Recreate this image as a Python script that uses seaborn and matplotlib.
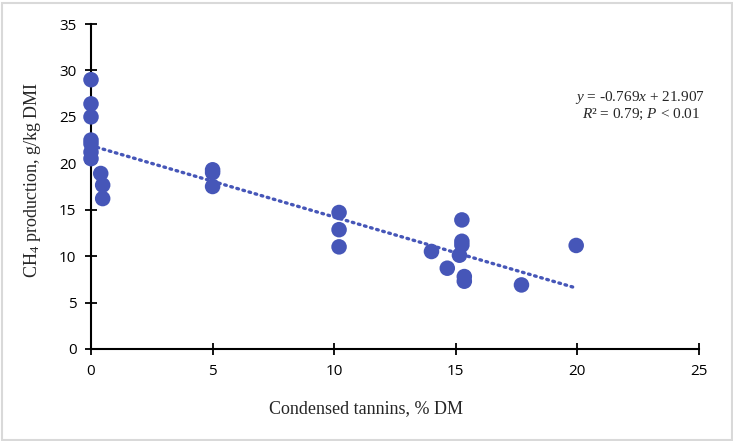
import numpy as np
import pandas as pd
import seaborn as sns
import matplotlib.pyplot as plt
from matplotlib.patches import Rectangle

# condensed tannins (% DM) vs CH4 production (g/kg DMI)
tannins = [0, 0, 0, 0, 0, 0, 0, 0.4, 0.48, 0.48,
           5.0, 5.0, 5.0,
           10.2, 10.2, 10.2,
           14.0, 14.65, 15.15, 15.25, 15.25, 15.25, 15.35, 15.35,
           17.7, 19.95]
ch4 = [29.0, 26.4, 25.0, 22.5, 22.1, 21.2, 20.5, 18.9, 17.65, 16.2,
       19.3, 19.0, 17.5,
       14.7, 12.85, 11.0,
       10.5, 8.7, 10.1, 13.9, 11.6, 11.2, 7.8, 7.3,
       6.9, 11.15]

slope = -0.769
intercept = 21.907
trend_x = [0, 19.9]

color = "#4656B8"

def main():
    df = pd.DataFrame({"ct": tannins, "ch4": ch4})
    trend = pd.DataFrame({"ct": trend_x, "ch4": [slope * v + intercept for v in trend_x]})

    sns.set_style("ticks")
    plt.rcParams["mathtext.fontset"] = "custom"
    plt.rcParams["mathtext.rm"] = "Liberation Serif"
    plt.rcParams["mathtext.it"] = "Liberation Serif:italic"

    W, H = 733, 441
    fig = plt.figure(figsize=(W / 100, H / 100), dpi=100)
    ax = fig.add_axes([91 / W, 1 - 349 / H, (699 - 91) / W, (349 - 24) / H])

    sns.lineplot(data=trend, x="ct", y="ch4", ax=ax, color=color, linewidth=2.4,
                 linestyle=(0, (0.5, 1.4)), dash_capstyle="round")
    sns.scatterplot(data=df, x="ct", y="ch4", ax=ax, color=color, s=125,
                    edgecolor="none", zorder=3, clip_on=False)

    ax.set_xlim(0, 25)
    ax.set_ylim(0, 35)
    ax.set_xticks(range(0, 26, 5))
    ax.set_yticks(range(0, 36, 5))
    sns.despine(ax=ax)
    for s in ["left", "bottom"]:
        ax.spines[s].set_linewidth(1.5)
        ax.spines[s].set_color("black")
    ax.tick_params(direction="inout", length=9, width=1.3, labelsize=11,
                   colors="black", pad=6)
    for lab in ax.get_xticklabels() + ax.get_yticklabels():
        lab.set_fontfamily("Open Sans")
    ax.set_xlabel("")
    ax.set_ylabel("")

    # axis titles are centred on the chart area, as in the spreadsheet original
    fig.text(366 / W, 1 - 409 / H, "Condensed tannins, % DM",
             ha="center", va="center", fontfamily="Liberation Serif", fontsize=13)
    fig.text(33 / W, 1 - 180 / H, "CH$_4$ production, g/kg DMI", rotation=90,
             ha="center", va="center", fontfamily="Liberation Serif", fontsize=13)

    fig.text(640 / W, 1 - 97 / H, "$y$ = -0.769$x$ + 21.907",
             ha="center", va="center", fontfamily="Liberation Serif", fontsize=11)
    fig.text(641 / W, 1 - 114 / H, "$R$² = 0.79; $P$ < 0.01",
             ha="center", va="center", fontfamily="Liberation Serif", fontsize=11)

    fig.patches.append(Rectangle((1.5 / W, 1.5 / H), 730 / W, 437 / H,
                                 transform=fig.transFigure, fill=False,
                                 edgecolor="#d9d9d9", linewidth=1.5))

    fig.savefig("out.png", dpi=100)

if __name__ == "__main__":
    main()
